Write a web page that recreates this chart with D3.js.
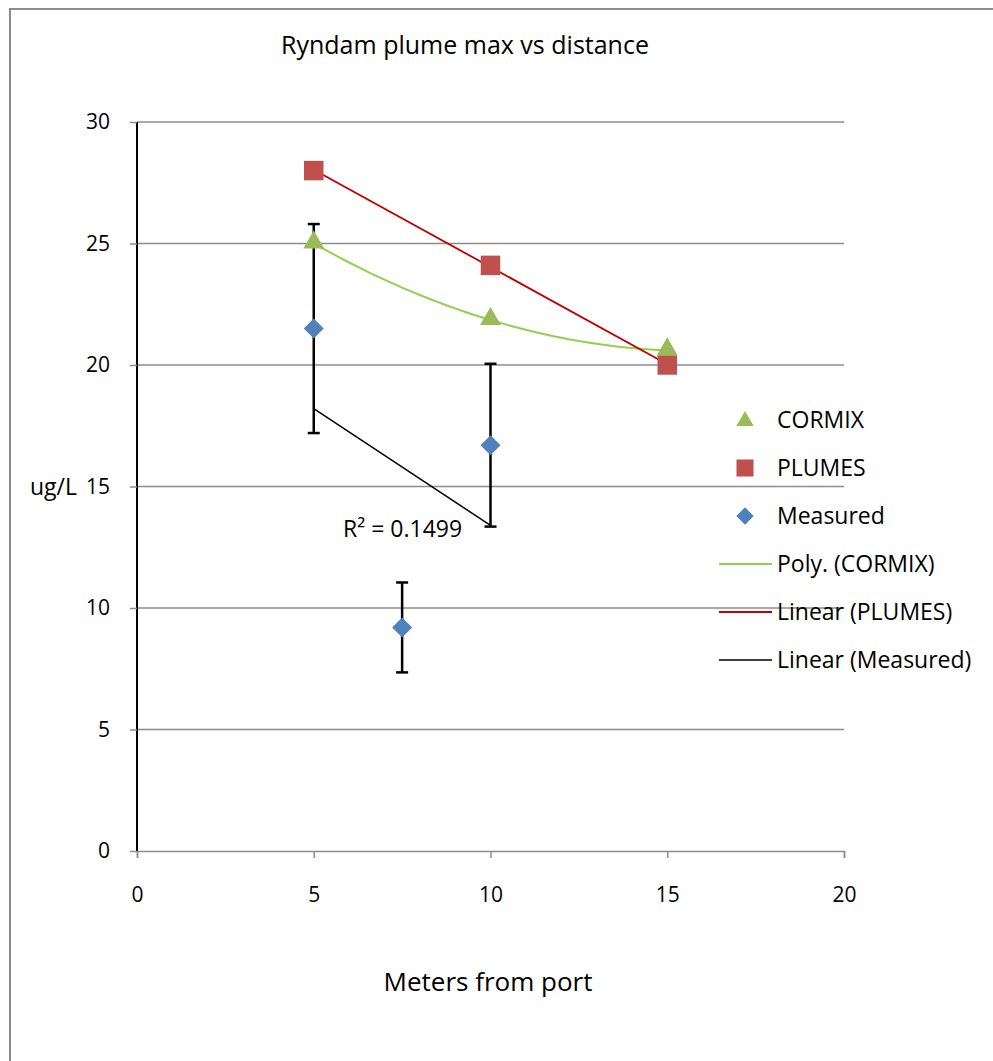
<!DOCTYPE html>
<html>
<head>
<meta charset="utf-8">
<script src="https://cdn.jsdelivr.net/npm/d3@7"></script>
<style>
  body { margin: 0; background: #fff; }
  svg text { font-family: "Open Sans", sans-serif; fill: #000; }
</style>
</head>
<body>
<svg id="chart" width="993" height="1061"></svg>
<script>
// series values
const distances = [5, 10, 15];
const cormix = [25, 21.85, 20.6];
const plumes = [28, 24.1, 20];
const measuredX = [5, 7.5, 10];
const measuredY = [21.5, 9.2, 16.7];
const measuredErr = [4.3, 1.85, 3.35];

const xTicks = [0, 5, 10, 15, 20];
const yTicks = [0, 5, 10, 15, 20, 25, 30];

const legendItems = [
    {label: "CORMIX", kind: "triangle"},
    {label: "PLUMES", kind: "square"},
    {label: "Measured", kind: "diamond"},
    {label: "Poly. (CORMIX)", kind: "polyline"},
    {label: "Linear (PLUMES)", kind: "plumesline"},
    {label: "Linear (Measured)", kind: "measline"}
];

const colors = {
    triangle: "#9BBB59",
    square: "#C0504D",
    diamond: "#4F81BD",
    polyline: "#92D050",
    plumesline: "#C00000",
    measline: "#000000"
};

const svg = d3.select("#chart");

// outer chart border
svg.append("rect")
    .attr("x", 10).attr("y", 9)
    .attr("width", 993).attr("height", 1070)
    .attr("fill", "none")
    .attr("stroke", "#8c8c8c")
    .attr("stroke-width", 2);

const x = d3.scaleLinear().domain([0, 20]).range([137, 844]);
const y = d3.scaleLinear().domain([0, 30]).range([851, 122]);

// gridlines
svg.append("g").selectAll("line")
    .data(yTicks.filter(d => d > 0))
    .enter().append("line")
    .attr("x1", x(0)).attr("x2", x(20))
    .attr("y1", d => y(d)).attr("y2", d => y(d))
    .attr("stroke", "#8c8c8c").attr("stroke-width", 1.5);

// x axis (gray)
let xAxis = d3.axisBottom(x).tickValues(xTicks).tickSize(7).tickPadding(29);
let gx = svg.append("g")
    .attr("transform", "translate(0," + y(0) + ")")
    .call(xAxis);
gx.select(".domain").attr("stroke", "#8c8c8c").attr("stroke-width", 1.5);
gx.selectAll(".tick line").attr("stroke", "#8c8c8c").attr("stroke-width", 1.5);
gx.selectAll("text").style("font-size", "21px").attr("fill", "#000");

// y axis (black)
let yAxis = d3.axisLeft(y).tickValues(yTicks).tickSize(7).tickPadding(20);
let gy = svg.append("g")
    .attr("transform", "translate(" + x(0) + ",0)")
    .call(yAxis);
gy.select(".domain").attr("stroke", "#000").attr("stroke-width", 2).attr("d", "M0," + y(30) + "V" + y(0));
gy.selectAll(".tick line").attr("stroke", "#8c8c8c").attr("stroke-width", 1.5);
gy.selectAll("text").style("font-size", "21px").attr("fill", "#000");

// titles
svg.append("text")
    .attr("x", 465).attr("y", 54)
    .attr("text-anchor", "middle")
    .style("font-size", "25px")
    .text("Ryndam plume max vs distance");

svg.append("text")
    .attr("x", 488).attr("y", 991)
    .attr("text-anchor", "middle")
    .style("font-size", "26px")
    .text("Meters from port");

svg.append("text")
    .attr("x", 30).attr("y", 495)
    .style("font-size", "23px")
    .text("ug/L");

// trendlines
// Poly (order 2) through CORMIX points
function lagrange(xs, ys, t) {
    let s = 0;
    for (let i = 0; i < xs.length; i++) {
        let p = ys[i];
        for (let j = 0; j < xs.length; j++) {
            if (j != i) p *= (t - xs[j]) / (xs[i] - xs[j]);
        }
        s += p;
    }
    return s;
}
let polyPts = d3.range(5, 15.01, 0.25).map(t => [t, lagrange(distances, cormix, t)]);
let line = d3.line().x(d => x(d[0])).y(d => y(d[1]));

svg.append("path")
    .datum(polyPts)
    .attr("d", line)
    .attr("fill", "none")
    .attr("stroke", colors.polyline)
    .attr("stroke-width", 2);

function linfit(xs, ys) {
    let mx = d3.mean(xs), my = d3.mean(ys);
    let sxy = d3.sum(xs, (v, i) => (v - mx) * (ys[i] - my));
    let sxx = d3.sum(xs, v => (v - mx) * (v - mx));
    let b = sxy / sxx, a = my - b * mx;
    let sst = d3.sum(ys, v => (v - my) * (v - my));
    return {a: a, b: b, r2: (b * b * sxx) / sst};
}

let pf = linfit(distances, plumes);
svg.append("path")
    .datum([5, 15].map(t => [t, pf.a + pf.b * t]))
    .attr("d", line)
    .attr("fill", "none")
    .attr("stroke", colors.plumesline)
    .attr("stroke-width", 1.8);

// error bars
let eb = svg.append("g");
measuredX.forEach(function(mx, i) {
    let top = y(measuredY[i] + measuredErr[i]);
    let bot = y(measuredY[i] - measuredErr[i]);
    eb.append("line").attr("x1", x(mx)).attr("x2", x(mx)).attr("y1", top).attr("y2", bot)
        .attr("stroke", "#000").attr("stroke-width", 2.5);
    [top, bot].forEach(function(v) {
        eb.append("line").attr("x1", x(mx) - 6).attr("x2", x(mx) + 6).attr("y1", v).attr("y2", v)
            .attr("stroke", "#000").attr("stroke-width", 2.5);
    });
});

let mf = linfit(measuredX, measuredY);
svg.append("path")
    .datum([5, 10].map(t => [t, mf.a + mf.b * t]))
    .attr("d", line)
    .attr("fill", "none")
    .attr("stroke", colors.measline)
    .attr("stroke-width", 1.5);

svg.append("text")
    .attr("x", 343).attr("y", 537)
    .style("font-size", "23px")
    .text("R\u00b2 = " + mf.r2.toFixed(4));

// markers
let symTri = d3.symbol().type(d3.symbolTriangle).size(190);
let symSq = d3.symbol().type(d3.symbolSquare).size(380);
let symDia = d3.symbol().type(d3.symbolSquare).size(200);

svg.append("g").selectAll("path")
    .data(distances)
    .enter().append("path")
    .attr("d", symSq)
    .attr("transform", (d, i) => "translate(" + x(d) + "," + y(plumes[i]) + ")")
    .attr("fill", colors.square);

svg.append("g").selectAll("path")
    .data(distances)
    .enter().append("path")
    .attr("d", symTri)
    .attr("transform", (d, i) => "translate(" + x(d) + "," + (y(cormix[i]) - 1) + ")")
    .attr("fill", colors.triangle);

svg.append("g").selectAll("path")
    .data(measuredX)
    .enter().append("path")
    .attr("d", symDia)
    .attr("transform", (d, i) => "translate(" + x(d) + "," + y(measuredY[i]) + ") rotate(45)")
    .attr("fill", colors.diamond);

// legend
let lg = svg.append("g").attr("transform", "translate(718,420)");
let rows = lg.selectAll("g")
    .data(legendItems)
    .enter().append("g")
    .attr("transform", (d, i) => "translate(0," + (i * 48) + ")");

rows.each(function(d) {
    let g = d3.select(this);
    if (d.kind == "triangle") {
        g.append("path").attr("d", d3.symbol().type(d3.symbolTriangle).size(130)).attr("transform", "translate(27,1)").attr("fill", colors.triangle);
    } else if (d.kind == "square") {
        g.append("path").attr("d", d3.symbol().type(d3.symbolSquare).size(290)).attr("transform", "translate(27,0)").attr("fill", colors.square);
    } else if (d.kind == "diamond") {
        g.append("path").attr("d", d3.symbol().type(d3.symbolSquare).size(150)).attr("transform", "translate(27,0) rotate(45)").attr("fill", colors.diamond);
    } else {
        g.append("line").attr("x1", 1).attr("x2", 54).attr("y1", 0).attr("y2", 0)
            .attr("stroke", colors[d.kind]).attr("stroke-width", d.kind == "measline" ? 1.5 : 2);
    }
    g.append("text")
        .attr("x", 59)
        .attr("y", 8)
        .style("font-size", "23px")
        .text(d.label);
});
</script>
</body>
</html>
